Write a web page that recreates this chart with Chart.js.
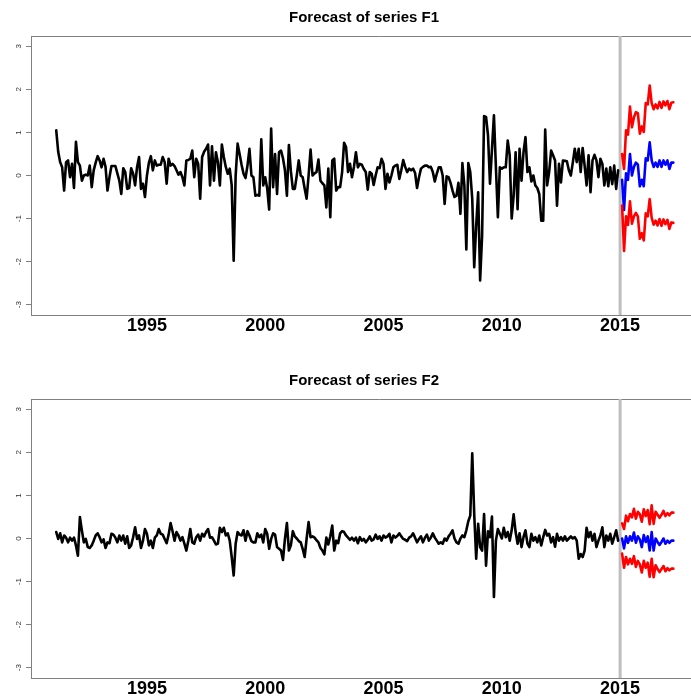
<!DOCTYPE html>
<html>
<head>
<meta charset="utf-8">
<script src="https://cdn.jsdelivr.net/npm/chart.js@4.4.1/dist/chart.umd.min.js"></script>
<style>
  html, body { margin: 0; padding: 0; background: #fff; }
  body { width: 691px; height: 699px; overflow: hidden; position: relative; }
  canvas { position: absolute; left: 0; }
  #panel-f1 { top: 0; }
  #panel-f2 { top: 363px; }
</style>
</head>
<body>
<canvas id="panel-f1" width="728" height="363"></canvas>
<canvas id="panel-f2" width="728" height="363"></canvas>
<script>
// monthly observations, first one is March 1991
const historyStart = 1991 + 2 / 12;
const forecastStart = 2015 + 1 / 12;
const splitYear = 2015;

const yearTicks = [1995, 2000, 2005, 2010, 2015];
const valueTicks = [-3, -2, -1, 0, 1, 2, 3];

const f1History = [
  1.05, 0.55, 0.31, 0.19, -0.35, 0.31, 0.35, -0.04, 0.27, -0.29, 0.78, 0.31,
  0.23, -0.12, 0.0, 0.02, 0.0, 0.23, -0.27, 0.12, 0.3, 0.45, 0.35, 0.19,
  0.39, 0.2, -0.35, -0.04, 0.22, 0.22, 0.22, 0.05, -0.12, -0.43, 0.17, 0.08,
  -0.31, -0.29, 0.17, 0.04, -0.23, 0.2, 0.43, -0.31, -0.19, -0.5, 0.0, 0.3,
  0.45, 0.12, 0.35, 0.23, 0.25, 0.25, 0.43, 0.31, -0.19, 0.39, 0.23, 0.27,
  0.22, 0.12, 0.02, 0.08, -0.04, -0.23, 0.35, 0.36, 0.39, 0.58, -0.04, 0.39,
  0.27, -0.54, 0.43, 0.55, 0.62, 0.72, -0.23, 0.68, -0.12, 0.54, 0.31, -0.23,
  0.72, 0.43, 0.2, 0.04, 0.16, -0.23, -1.98, 0.0, 0.74, 0.5, 0.25, 0.04,
  -0.06, 0.23, 0.62, 0.0, -0.04, -0.47, -0.45, -0.47, 0.84, -0.23, -0.04, -0.3,
  -0.79, 1.09, -0.27, 0.5, -0.43, 0.54, 0.58, 0.4, 0.12, -0.47, 0.71, 0.1,
  -0.31, -0.31, 0.0, 0.35, 0.0, -0.04, -0.3, -0.54, 0.0, 0.6, 0.0, 0.05,
  0.08, 0.37, -0.12, -0.18, -0.23, -0.74, 0.16, -0.97, 0.35, 0.39, -0.35, -0.27,
  -0.27, 0.08, 0.76, 0.66, 0.08, 0.27, -0.04, 0.2, 0.54, 0.19, 0.27, 0.25,
  0.15, 0.08, -0.33, 0.08, 0.04, -0.22, 0.0, 0.19, 0.17, 0.39, 0.27, -0.31,
  0.04, -0.16, 0.0, 0.19, 0.23, 0.25, -0.08, 0.12, 0.36, 0.2, 0.08, 0.16,
  0.12, 0.16, 0.06, -0.29, -0.04, 0.16, 0.2, 0.23, 0.23, 0.19, 0.2, 0.08,
  -0.14, 0.04, 0.19, 0.19, 0.0, -0.66, -0.02, -0.04, -0.17, -0.35, -0.5, -0.47,
  -0.17, -0.89, 0.29, -0.23, -1.72, 0.29, 0.08, -0.54, -2.13, -1.16, -0.39, -2.44,
  -1.4, 1.38, 1.36, 0.93, -0.19, 0.6, 1.4, 0.19, -0.97, 0.19, 0.16, 0.19,
  0.19, 0.81, 0.47, -1.0, -0.47, 0.54, -0.78, 0.62, -0.12, 0.54, 0.89, 0.08,
  0.19, -0.14, 0.0, -0.23, -0.29, -0.43, -1.05, -1.05, 1.07, -0.23, 0.08, 0.58,
  0.47, 0.35, -0.7, 0.27, -0.16, 0.35, 0.34, 0.33, 0.12, 0.0, 0.3, 0.62,
  0.31, 0.62, 0.08, 0.64, 0.23, -0.23, 0.47, -0.39, 0.35, 0.48, 0.35, -0.04,
  0.39, 0.27, -0.23, 0.16, -0.25, 0.19, -0.2, 0.23, -0.31, 0.12
];
const f1Forecast = [
  -0.1, -0.8, 0.05, -0.1, 0.5, 0.0, 0.2, 0.3, 0.25, -0.25, -0.1, -0.25,
  0.4, 0.35, 0.77, 0.35, 0.2, 0.3, 0.2, 0.35, 0.2, 0.35, 0.25, 0.35, 0.15, 0.3, 0.3
];
const f1Upper = [
  0.5, 0.15, 1.05, 0.95, 1.6, 1.12, 1.35, 1.47, 1.45, 0.97, 1.14, 1.01,
  1.68, 1.65, 2.09, 1.68, 1.54, 1.65, 1.56, 1.71, 1.57, 1.72, 1.63, 1.73, 1.54, 1.69, 1.7
];
const f1Lower = [
  -0.7, -1.75, -0.95, -1.15, -0.6, -1.12, -0.95, -0.87, -0.95, -1.47, -1.34, -1.51,
  -0.88, -0.95, -0.55, -0.98, -1.14, -1.05, -1.16, -1.01, -1.17, -1.02, -1.13, -1.03, -1.24, -1.09, -1.1
];

const f2History = [
  0.15, -0.01, 0.12, -0.09, 0.07, 0.02, -0.09, 0.02, -0.05, 0.02, -0.16, -0.4,
  0.5, 0.19, -0.09, -0.01, -0.2, -0.22, -0.16, -0.05, 0.07, 0.12, 0.03, -0.09,
  -0.02, -0.22, -0.09, -0.11, 0.11, 0.09, 0.02, -0.09, 0.07, -0.05, 0.07, -0.12,
  0.05, -0.22, -0.16, 0.03, 0.26, -0.01, 0.07, -0.22, -0.05, 0.22, 0.11, -0.16,
  -0.05, -0.22, 0.02, 0.07, 0.22, 0.11, 0.09, -0.01, -0.11, 0.09, 0.36, 0.17,
  -0.05, 0.15, 0.07, -0.05, 0.03, -0.12, -0.28, -0.05, 0.22, -0.09, -0.12, 0.03,
  0.09, -0.05, 0.11, 0.05, 0.15, 0.22, 0.02, 0.03, -0.05, -0.14, -0.12, 0.25,
  0.15, 0.25, 0.07, 0.12, -0.05, -0.43, -0.86, -0.12, 0.15, 0.09, 0.07, 0.19,
  -0.05, 0.17, 0.07, -0.06, -0.09, -0.09, 0.12, 0.03, 0.09, -0.09, 0.22, 0.11,
  -0.24, -0.01, 0.12, 0.09, -0.2, -0.24, -0.28, -0.5, -0.01, 0.36, -0.28, -0.16,
  0.17, 0.05, 0.0, -0.06, -0.09, -0.24, -0.43, 0.0, 0.38, 0.03, 0.05, 0.02,
  -0.04, -0.09, -0.22, -0.28, -0.37, 0.02, -0.14, 0.05, 0.3, -0.28, -0.05, -0.11,
  0.12, 0.17, 0.15, 0.07, 0.02, -0.03, 0.02, -0.05, 0.02, -0.11, 0.03, -0.05,
  -0.01, -0.09, -0.03, 0.05, -0.05, -0.02, 0.09, -0.01, 0.05, -0.05, 0.07, 0.02,
  0.05, 0.11, -0.09, 0.07, 0.02, 0.06, 0.12, 0.05, -0.01, -0.03, -0.06, 0.02,
  0.05, 0.12, 0.02, -0.09, -0.01, 0.05, -0.09, 0.02, 0.09, -0.05, 0.02, 0.12,
  0.02, -0.05, -0.12, -0.09, -0.12, 0.0, -0.05, 0.05, 0.11, 0.19, 0.0, -0.09,
  -0.12, 0.0, 0.07, 0.03, 0.19, 0.4, 0.53, 1.98, 0.57, -0.47, 0.34, -0.2,
  -0.28, 0.57, -0.63, 0.17, 0.03, 0.51, -1.36, -0.05, 0.22, 0.11, 0.0, 0.25,
  0.03, 0.15, -0.05, 0.19, 0.56, 0.15, -0.12, 0.12, -0.2, 0.03, 0.19, -0.12,
  -0.2, 0.11, -0.05, 0.03, -0.09, 0.07, -0.16, 0.03, 0.2, 0.07, 0.11, -0.09,
  0.03, -0.19, 0.11, -0.05, 0.03, -0.05, 0.05, -0.05, 0.0, 0.05, 0.0, 0.03,
  -0.05, -0.47, -0.36, -0.43, -0.28, 0.25, 0.03, 0.15, -0.05, 0.11, -0.2, -0.05,
  0.07, 0.26, -0.2, 0.07, -0.05, 0.11, -0.12, 0.03, 0.19, -0.05
];
const f2Forecast = [
  0.0, -0.23, 0.05, -0.1, 0.05, -0.05, 0.14, -0.1, 0.05, -0.02, -0.2, 0.08,
  -0.08, 0.05, -0.28, 0.15, -0.28, 0.0, -0.08, -0.15, -0.08, 0.0, -0.12, -0.05, -0.1, -0.05, -0.05
];
const f2Upper = [
  0.35, 0.22, 0.53, 0.4, 0.57, 0.49, 0.69, 0.46, 0.62, 0.56, 0.39, 0.68,
  0.52, 0.66, 0.33, 0.77, 0.34, 0.62, 0.55, 0.48, 0.55, 0.64, 0.52, 0.59, 0.54, 0.6, 0.6
];
const f2Lower = [
  -0.35, -0.68, -0.43, -0.6, -0.47, -0.59, -0.41, -0.66, -0.52, -0.6, -0.79, -0.52,
  -0.68, -0.56, -0.89, -0.47, -0.9, -0.62, -0.71, -0.78, -0.71, -0.64, -0.76, -0.69, -0.74, -0.7, -0.7
];

// the plot box runs past the right edge of the picture
const xMin = 1990.1, xMax = 2019.56;
const yMin = -3.24, yMax = 3.24;
const axisGrey = '#808080';

Chart.defaults.font.family = "'Liberation Sans', Arial, sans-serif";

function toPoints(values, start) {
  return values.map((v, i) => ({ x: start + i / 12, y: v }));
}

// grey line along the top of the plot box
const topFrame = {
  id: 'topFrame',
  beforeDatasetsDraw(chart) {
    const { ctx, chartArea } = chart;
    ctx.save();
    ctx.strokeStyle = axisGrey;
    ctx.lineWidth = 1;
    ctx.beginPath();
    ctx.moveTo(chartArea.left, chartArea.top + 0.5);
    ctx.lineTo(chartArea.right, chartArea.top + 0.5);
    ctx.stroke();
    ctx.restore();
  }
};

function lineSet(label, points, color, width) {
  return {
    label: label,
    data: points,
    borderColor: color,
    borderWidth: width,
    pointRadius: 0,
    tension: 0,
    borderJoinStyle: 'round',
    borderCapStyle: 'round',
  };
}

function buildPanel(canvasId, title, history, forecast, lower, upper) {
  const ctx = document.getElementById(canvasId).getContext('2d');
  return new Chart(ctx, {
    type: 'line',
    data: {
      datasets: [
        lineSet('history', toPoints(history, historyStart), '#000000', 2.6),
        lineSet('upper', toPoints(upper, forecastStart), '#ff0000', 2.6),
        lineSet('lower', toPoints(lower, forecastStart), '#ff0000', 2.6),
        lineSet('forecast', toPoints(forecast, forecastStart), '#0000ff', 2.6),
        lineSet('split', [{ x: splitYear, y: yMin }, { x: splitYear, y: yMax }], '#bebebe', 3),
      ]
    },
    options: {
      responsive: false,
      animation: false,
      events: [],
      layout: { padding: 0 },
      plugins: {
        legend: { display: false },
        tooltip: { enabled: false },
        title: {
          display: true,
          text: title,
          color: '#000',
          font: { size: 15, weight: 'bold', lineHeight: 1.2 },
          padding: { top: 8.5, bottom: 9.5 }
        }
      },
      scales: {
        x: {
          type: 'linear',
          min: xMin,
          max: xMax,
          afterBuildTicks: s => { s.ticks = yearTicks.map(v => ({ value: v })); },
          afterFit: s => { s.height = 48; },
          grid: { display: false, drawTicks: false },
          border: { display: true, color: axisGrey, width: 1 },
          ticks: {
            color: '#000',
            padding: 0,
            maxRotation: 0,
            autoSkip: false,
            font: { size: 18, weight: 'bold' },
            callback: v => String(v)
          }
        },
        y: {
          type: 'linear',
          min: yMin,
          max: yMax,
          afterBuildTicks: s => { s.ticks = valueTicks.map(v => ({ value: v })); },
          afterFit: s => { s.width = 31; },
          grid: { drawOnChartArea: false, drawTicks: true, tickLength: 5, color: axisGrey },
          border: { display: true, color: axisGrey, width: 1 },
          ticks: {
            color: '#333',
            padding: 4,
            minRotation: 90,
            maxRotation: 90,
            crossAlign: 'center',
            autoSkip: false,
            font: { size: 8 },
            callback: v => String(v)
          }
        }
      }
    },
    plugins: [topFrame]
  });
}

buildPanel('panel-f1', 'Forecast of series F1', f1History, f1Forecast, f1Lower, f1Upper);
buildPanel('panel-f2', 'Forecast of series F2', f2History, f2Forecast, f2Lower, f2Upper);
</script>
</body>
</html>
